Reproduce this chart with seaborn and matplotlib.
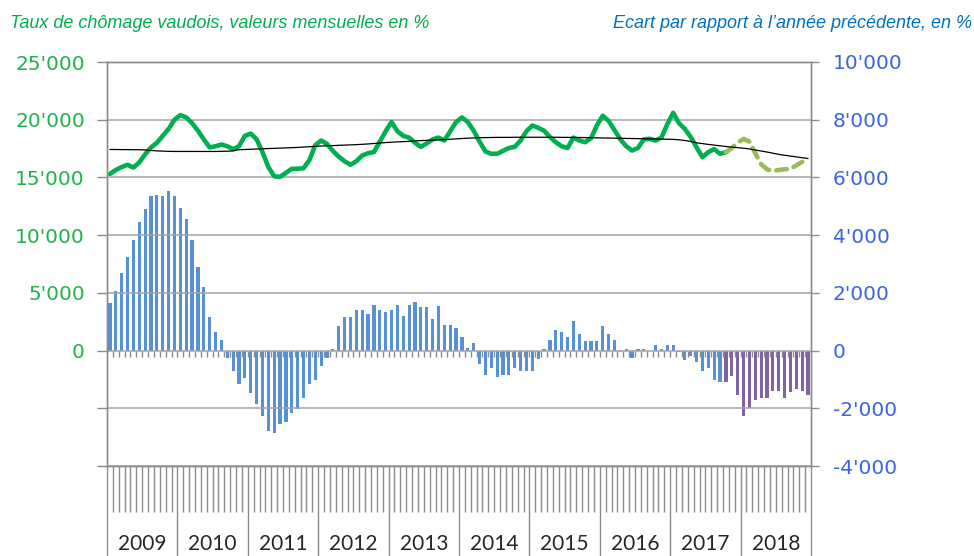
import numpy as np
import pandas as pd
import matplotlib
matplotlib.use("Agg")
import matplotlib.pyplot as plt
from matplotlib.ticker import FuncFormatter, FixedLocator, NullFormatter
import seaborn as sns

# ---------------- data ----------------
years = [2009, 2010, 2011, 2012, 2013, 2014, 2015, 2016, 2017, 2018]
n_months = 120          # Jan 2009 .. Dec 2018
forecast_start = 105    # Oct 2017

# unemployed persons (left axis), observed, months 0..105
chomage_reel = [
    15300, 15650, 15900, 16100, 15850, 16300, 17000, 17600, 18000, 18600, 19200, 20000,
    20400, 20200, 19700, 19050, 18300, 17600, 17700, 17850, 17700, 17450, 17700, 18600,
    18800, 18300, 17200, 15900, 15100, 15050, 15400, 15750, 15750, 15800, 16500, 17800,
    18200, 17900, 17300, 16800, 16400, 16100, 16400, 16900, 17100, 17200, 18100, 19000,
    19800, 19000, 18600, 18450, 18000, 17650, 17950, 18300, 18450, 18200, 19000, 19800,
    20200, 19800, 19050, 18100, 17250, 17050, 17050, 17300, 17550, 17650, 18200, 19000,
    19500, 19300, 19050, 18500, 18050, 17700, 17550, 18450, 18200, 18050, 18400, 19500,
    20350, 19900, 19100, 18300, 17700, 17330, 17550, 18300, 18350, 18200, 18450, 19600,
    20600, 19700, 19200, 18500, 17600, 16750, 17200, 17450, 17050, 17180,
]
# forecast (left axis), months 105..118
chomage_prevision = [
    17180, 17550, 18000, 18340, 18100, 17100, 16150, 15700, 15550, 15650, 15700, 15750,
    16050, 16350,
]
# long-term trend (left axis), months 0..119
tendance = [
    17420, 17420, 17410, 17410, 17400, 17400, 17380, 17340, 17300, 17280, 17260, 17250,
    17250, 17250, 17250, 17250, 17250, 17250, 17250, 17260, 17270, 17300, 17400, 17420,
    17440, 17460, 17480, 17500, 17520, 17540, 17560, 17580, 17600, 17630, 17660, 17690,
    17720, 17740, 17760, 17780, 17800, 17820, 17840, 17870, 17900, 17940, 17980, 18020,
    18050, 18080, 18100, 18130, 18160, 18190, 18210, 18230, 18250, 18280, 18310, 18340,
    18370, 18400, 18420, 18440, 18450, 18460, 18470, 18470, 18470, 18480, 18480, 18480,
    18480, 18480, 18480, 18480, 18480, 18470, 18470, 18460, 18460, 18450, 18440, 18430,
    18420, 18410, 18400, 18390, 18380, 18370, 18360, 18350, 18340, 18330, 18320, 18310,
    18300, 18260, 18200, 18120, 18000, 17930, 17860, 17800, 17740, 17680, 17630, 17580,
    17530, 17470, 17370, 17290, 17200, 17100, 17000, 16920, 16850, 16780, 16710, 16640,
]
# year-on-year difference (right axis), months 0..119
ecart = [
    1650, 2080, 2700, 3250, 3830, 4460, 4890, 5340, 5390, 5340, 5530, 5340,
    4950, 4570, 3830, 2890, 2200, 1150, 630, 380, -250, -710, -1150, -940,
    -1460, -1840, -2260, -2780, -2840, -2530, -2460, -2150, -2030, -1660, -1150, -1030,
    -520, -250, 70, 840, 1150, 1150, 1390, 1390, 1280, 1590, 1390, 1330,
    1390, 1590, 1210, 1590, 1700, 1520, 1520, 1090, 1530, 900, 900, 780,
    470, 90, 260, -480, -850, -600, -910, -850, -850, -600, -710, -710,
    -710, -280, 70, 380, 700, 630, 460, 1010, 590, 320, 320, 320,
    840, 590, 380, 20, 70, -250, 70, 70, 0, 210, 70, 210,
    210, -60, -340, -200, -400, -710, -600, -1020, -1090, -1090, -890, -1540,
    -2260, -1980, -1710, -1660, -1660, -1400, -1400, -1660, -1420, -1340, -1400, -1540,
]

left_ticks = list(range(-10000, 25001, 5000))
right_ticks = list(range(-4000, 10001, 2000))

# ---------------- styles ----------------
GREEN = "#00B050"
GREEN_FC = "#9BBB59"
BLUE_BAR = "#5590D8"
PURPLE = "#8064A2"
LEFT_LBL = "#22B24C"
RIGHT_LBL = "#3C64E0"
GRID = "#A3A3A3"
AXC = "#8C8C8C"

sns.set_style("white")
plt.rcParams["font.family"] = ["DejaVu Sans"]

months = np.arange(n_months)
df_bars = pd.DataFrame({
    "mois": months,
    "ecart": ecart,
    "phase": ["reel" if m < forecast_start else "prevision" for m in months],
})
df_reel = pd.DataFrame({"mois": months[:len(chomage_reel)], "val": chomage_reel})
df_prev = pd.DataFrame({"mois": months[forecast_start:forecast_start + len(chomage_prevision)],
                        "val": chomage_prevision})
df_tend = pd.DataFrame({"mois": months, "val": tendance})

fig = plt.figure(figsize=(9.74, 5.56), dpi=100)
ax = fig.add_axes([107 / 974, 1 - 466 / 556, (811 - 107) / 974, (466 - 62) / 556])
ax2 = ax.twinx()

# bars on right axis
sns.barplot(data=df_bars, x="mois", y="ecart", hue="phase",
            palette={"reel": BLUE_BAR, "prevision": PURPLE},
            dodge=False, width=0.55, saturation=1, errorbar=None,
            legend=False, ax=ax2, linewidth=0)

# lines on left axis
sns.lineplot(data=df_reel, x="mois", y="val", ax=ax, color=GREEN, lw=3.3,
             solid_capstyle="round", solid_joinstyle="round")
sns.lineplot(data=df_prev, x="mois", y="val", ax=ax, color=GREEN_FC, lw=3.3,
             linestyle=(0, (2.3, 1.6)), dash_capstyle="round")
sns.lineplot(data=df_tend, x="mois", y="val", ax=ax, color="black", lw=0.9)

ax.set_zorder(ax2.get_zorder() + 1)
ax.patch.set_visible(False)

# y axes
ax.set_ylim(-10000, 25000)
ax.yaxis.set_major_locator(FixedLocator(left_ticks))
ax.yaxis.set_major_formatter(FuncFormatter(
    lambda v, p: "" if v < 0 else f"{int(v):,}".replace(",", "'")))
ax2.set_ylim(-4000, 10000)
ax2.yaxis.set_major_locator(FixedLocator(right_ticks))
ax2.yaxis.set_major_formatter(FuncFormatter(
    lambda v, p: f"{int(v):,}".replace(",", "'")))

ax.tick_params(axis="y", which="both", left=True, right=False, direction="out",
               length=7, width=1, color=AXC, labelcolor=LEFT_LBL, labelsize=14.5, pad=9)
ax2.tick_params(axis="y", which="both", left=False, right=True, direction="out",
                length=5.5, width=1, color=AXC, labelcolor=RIGHT_LBL, labelsize=14.5, pad=10)

ax.yaxis.grid(True, color=GRID, lw=1.1)
ax.xaxis.grid(False)
ax2.grid(False)

for a in (ax, ax2):
    for s in a.spines.values():
        s.set_color(AXC)
        s.set_linewidth(1)
    a.set_xlabel("")
    a.set_ylabel("")

# category axis (months / years)
ax.set_xlim(-0.5, n_months - 0.5)
year_bounds = [12 * k - 0.5 for k in range(len(years) + 1)]
month_bounds = [m + 0.5 for m in months[:-1] if (m + 1) % 12 != 0]
ax.xaxis.set_major_locator(FixedLocator(year_bounds))
ax.xaxis.set_minor_locator(FixedLocator(month_bounds))
ax.xaxis.set_major_formatter(NullFormatter())
ax.xaxis.set_minor_formatter(NullFormatter())
ax.tick_params(axis="x", which="major", bottom=True, top=False, direction="out",
               length=66, width=1, color=AXC)
ax.tick_params(axis="x", which="minor", bottom=True, top=False, direction="out",
               length=33, width=1, color=AXC)

for k, y in enumerate(years):
    ax.text(12 * k + 5.5, -0.193, str(y), transform=ax.get_xaxis_transform(),
            ha="center", va="center", fontsize=15, family=["Lato", "DejaVu Sans"],
            color="#262626", clip_on=False)

# small ticks on the zero line of the bar axis
all_bounds = [m + 0.5 for m in months[:-1]]
ax2.plot(all_bounds, [0] * len(all_bounds), linestyle="none", marker=3,
         markersize=4.5, markeredgewidth=1, color=AXC, clip_on=False)

# subtitles
fig.text(10 / 974, 1 - 24 / 556, "Taux de chômage vaudois, valeurs mensuelles en %",
         color=GREEN, style="italic", fontsize=13.0,
         family=["Liberation Sans", "DejaVu Sans"], ha="left", va="center")
fig.text(972 / 974, 1 - 24 / 556, "Ecart par rapport à l’année précédente, en %",
         color="#0070C0", style="italic", fontsize=13.0,
         family=["Liberation Sans", "DejaVu Sans"], ha="right", va="center")

fig.savefig("out.png", dpi=100)
